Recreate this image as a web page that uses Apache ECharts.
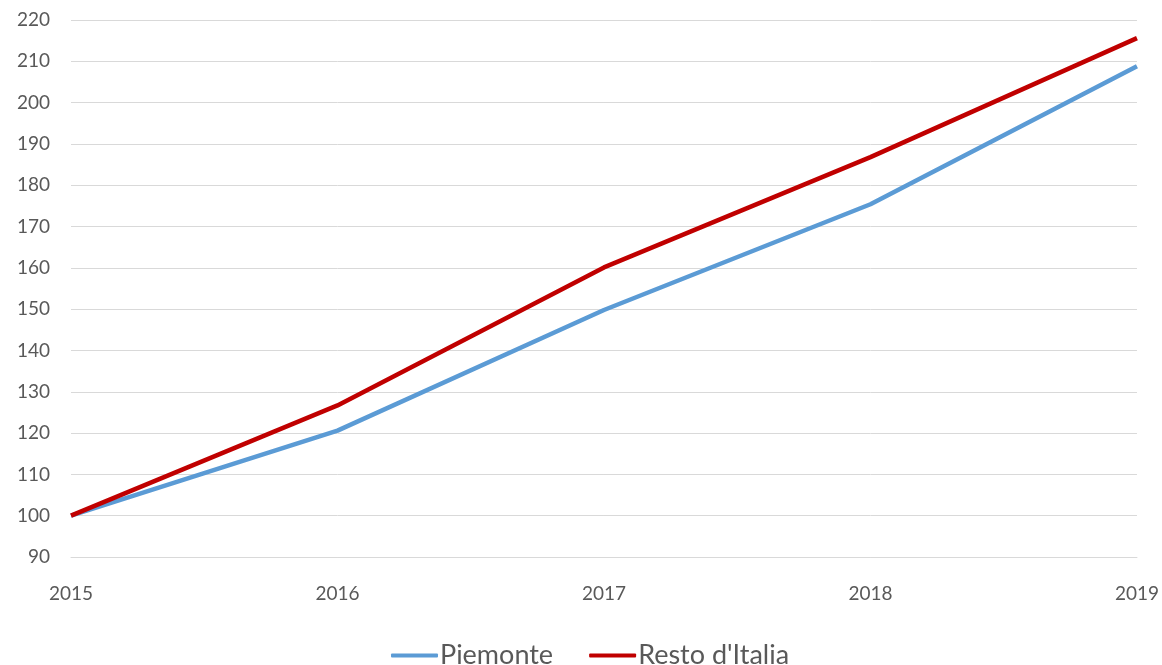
<!DOCTYPE html>
<html>
<head>
<meta charset="utf-8">
<script src="https://cdn.jsdelivr.net/npm/echarts@6/dist/echarts.min.js"></script>
<style>
  html, body { margin: 0; padding: 0; background: #fff; }
  #chart { width: 1162px; height: 665px; }
</style>
</head>
<body>
<div id="chart"></div>
<script>
// anni e indici (2015 = 100)
var years = ['2015', '2016', '2017', '2018', '2019']
var piemonte = [100, 120.6, 149.8, 175.4, 208.8]
var restoItalia = [100, 126.7, 160.1, 186.8, 215.6]

var textColor = '#595959'
var font = 'Lato, "Open Sans", sans-serif'

var chart = echarts.init(document.getElementById('chart'))
chart.setOption({
  animation: false,
  grid: { left: 71, right: 24, top: 20, bottom: 108, containLabel: false },
  legend: {
    top: 637,
    left: 386,
    itemWidth: 47,
    itemHeight: 4,
    itemGap: 36,
    icon: 'roundRect',
    textStyle: { color: textColor, fontSize: 27, fontFamily: font, padding: [0, 0, 0, -3] },
    data: ['Piemonte', "Resto d'Italia"]
  },
  xAxis: {
    type: 'category',
    data: years,
    boundaryGap: false,
    axisLine: { lineStyle: { color: '#d9d9d9', width: 1 } },
    axisTick: { show: false },
    axisLabel: { color: textColor, fontSize: 19, fontFamily: font, margin: 27 }
  },
  yAxis: {
    type: 'value',
    min: 90,
    max: 220,
    interval: 10,
    axisLine: { show: false },
    axisTick: { show: false },
    splitLine: { lineStyle: { color: '#d9d9d9', width: 1 } },
    axisLabel: { color: textColor, fontSize: 19, fontFamily: font, margin: 21 }
  },
  series: [
    {
      name: 'Piemonte',
      type: 'line',
      data: piemonte,
      symbol: 'none',
      color: '#5b9bd5',
      lineStyle: { width: 4.5, color: '#5b9bd5' }
    },
    {
      name: "Resto d'Italia",
      type: 'line',
      data: restoItalia,
      symbol: 'none',
      color: '#c00000',
      lineStyle: { width: 4.5, color: '#c00000' }
    }
  ]
})
</script>
</body>
</html>
